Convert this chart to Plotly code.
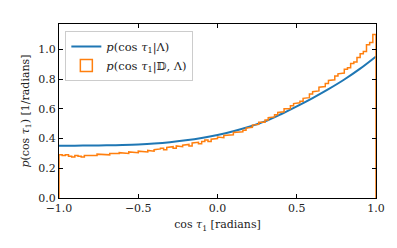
import plotly.graph_objects as go

# Smooth model curve p(cos tau1 | Lambda)
model_x = [-1.0, -0.9, -0.8, -0.7, -0.6, -0.5, -0.4, -0.3, -0.2, -0.1, 0.0,
           0.1, 0.2, 0.3, 0.4, 0.5, 0.6, 0.7, 0.8, 0.9, 1.0]
model_y = [0.352, 0.352, 0.353, 0.354, 0.356, 0.360, 0.366, 0.375, 0.388, 0.404, 0.424,
           0.449, 0.479, 0.515, 0.563, 0.616, 0.672, 0.732, 0.797, 0.870, 0.952]

# Histogram p(cos tau1 | D, Lambda): 100 bins on [-1, 1]
bin_edges = [-1.0 + 0.02 * i for i in range(101)]
hist_vals = [
    0.29, 0.285, 0.29, 0.28, 0.275, 0.285, 0.28, 0.275, 0.285, 0.285,
    0.29, 0.285, 0.295, 0.29, 0.295, 0.29, 0.30, 0.295, 0.30, 0.305,
    0.30, 0.30, 0.31, 0.305, 0.305, 0.315, 0.31, 0.31, 0.32, 0.315,
    0.325, 0.33, 0.335, 0.325, 0.34, 0.345, 0.335, 0.35, 0.345, 0.355,
    0.36, 0.35, 0.37, 0.375, 0.365, 0.38, 0.39, 0.38, 0.395, 0.40,
    0.41, 0.405, 0.42, 0.425, 0.425, 0.44, 0.445, 0.445, 0.455, 0.47,
    0.475, 0.49, 0.495, 0.51, 0.51, 0.525, 0.54, 0.545, 0.56, 0.575,
    0.58, 0.60, 0.60, 0.62, 0.635, 0.64, 0.65, 0.67, 0.675, 0.70,
    0.715, 0.72, 0.745, 0.75, 0.77, 0.79, 0.795, 0.82, 0.835, 0.84,
    0.865, 0.875, 0.905, 0.915, 0.945, 0.97, 0.985, 1.03, 1.045, 1.10,
]

x_ticks = [-1.0, -0.5, 0.0, 0.5, 1.0]
x_ticklabels = ["\u22121.0", "\u22120.5", "0.0", "0.5", "1.0"]
y_ticks = [0.0, 0.2, 0.4, 0.6, 0.8, 1.0]
y_ticklabels = ["0.0", "0.2", "0.4", "0.6", "0.8", "1.0"]

BLUE = "#1f77b4"
ORANGE = "#ff7f0e"
FONT = "DejaVu Serif"

# step outline of histogram (matplotlib 'step' style, down to zero at both ends)
step_x = [bin_edges[0]]
step_y = [0.0]
for i, v in enumerate(hist_vals):
    step_x += [bin_edges[i], bin_edges[i + 1]]
    step_y += [v, v]
step_x.append(bin_edges[-1])
step_y.append(0.0)

fig = go.Figure()
fig.add_trace(go.Scatter(
    x=model_x, y=model_y, mode="lines", line=dict(color=BLUE, width=2, shape="spline"),
    name="<i>p</i>(cos <i>τ</i><sub>1</sub>|Λ)",
))
fig.add_trace(go.Scatter(
    x=step_x, y=step_y, mode="lines", line=dict(color=ORANGE, width=1.5),
    showlegend=False, hoverinfo="skip",
))
# legend patch for the histogram
fig.add_trace(go.Bar(
    x=[None], y=[None], marker=dict(color="rgba(255,255,255,0)", line=dict(color=ORANGE, width=1.5)),
    name="<i>p</i>(cos <i>τ</i><sub>1</sub>|\U0001D53B, Λ)",
))

axis_common = dict(
    showline=True, linecolor="black", linewidth=1, mirror="ticks",
    ticks="inside", ticklen=4, tickwidth=1, tickcolor="black",
    showgrid=False, zeroline=False,
    tickfont=dict(family=FONT, size=11, color="#222"),
)
fig.update_xaxes(
    range=[-1, 1], tickvals=x_ticks, ticktext=x_ticklabels,
    title=dict(text="cos <i>τ</i><sub>1</sub> [radians]", font=dict(family=FONT, size=11, color="#222"), standoff=6),
    **axis_common,
)
fig.update_yaxes(
    range=[0, 1.17], tickvals=y_ticks, ticktext=y_ticklabels,
    title=dict(text="<i>p</i>(cos <i>τ</i><sub>1</sub>) [1/radians]", font=dict(family=FONT, size=11, color="#222"), standoff=6),
    **axis_common,
)
# page body has an 8px margin; compensate so the plot area lands where the reference has it
fig.update_layout(
    width=389, height=240,
    margin=dict(l=51, r=21, t=16, b=50),
    plot_bgcolor="white", paper_bgcolor="white",
    legend=dict(
        x=0.02, y=0.96, xanchor="left", yanchor="top",
        bgcolor="rgba(255,255,255,0.8)", bordercolor="#cccccc", borderwidth=1,
        font=dict(family=FONT, size=11.5, color="#222"),
        tracegroupgap=2, itemwidth=30,
    ),
    showlegend=True,
)
fig.write_html("out.html")
